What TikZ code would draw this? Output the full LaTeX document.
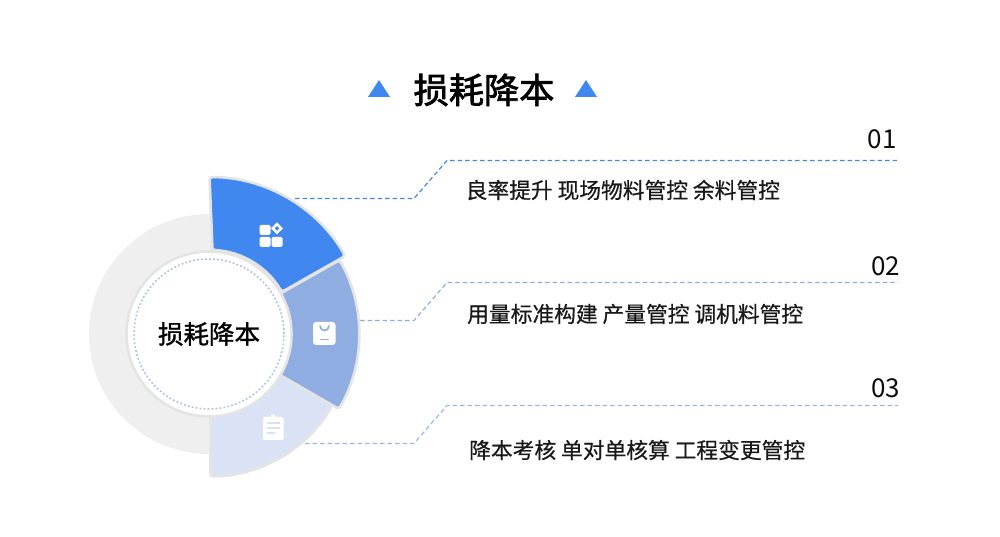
\documentclass[tikz,border=0pt]{standalone}
\usepackage{fontspec}
\newfontfamily\cjk{Noto Sans CJK SC}
\newfontfamily\cjkm[FakeBold=0.6]{Noto Sans CJK SC}
\newfontfamily\cjkc[FakeBold=1.2]{Noto Sans CJK SC}
\newfontfamily\cjkb[FakeBold=2]{Noto Sans CJK SC}
\definecolor{cblue}{HTML}{4087EF}
\definecolor{cmid}{HTML}{90ADE2}
\definecolor{clight}{HTML}{DAE3F5}
\definecolor{cedge}{HTML}{E4E4E4}
\definecolor{cring}{HTML}{EFEFEF}
\definecolor{cdots}{HTML}{A9BFEA}
\tikzset{
  x=1pt,y=1pt,
  sector/.style={draw=cedge,line width=2.6pt,rounded corners=3pt,line join=round},
  leader/.style={line width=1.2pt,dash pattern=on 4.5pt off 3pt},
  itemtext/.style={anchor=west,inner sep=0pt,font=\cjkm\fontsize{21.75}{24}\selectfont,text=black!90},
  numtext/.style={anchor=east,inner sep=0pt,font=\cjk\fontsize{26}{28}\selectfont,text=black!95},
  tri/.style={fill=cblue,draw=none}
}
\begin{document}
\begin{tikzpicture}
\useasboundingbox (0,0) rectangle (1000,537);
% leaders
\coordinate (a0) at (295,338.5);
\coordinate (a1) at (414,338.5);
\coordinate (a2) at (447,376.5);
\coordinate (a3) at (898,376.5);
\coordinate (b0) at (360,216.5);
\coordinate (b1) at (414,216.5);
\coordinate (b2) at (447,254.5);
\coordinate (b3) at (898,254.5);
\coordinate (c0) at (305,93.5);
\coordinate (c1) at (414,93.5);
\coordinate (c2) at (447,131.5);
\coordinate (c3) at (898,131.5);
\draw[leader,cblue] (a0) -- (a1) -- (a2) -- (a3);
\draw[leader,cmid] (b0) -- (b1) -- (b2) -- (b3);
\draw[leader,cmid!90!white] (c0) -- (c1) -- (c2) -- (c3);
% ring and sectors
\begin{scope}[shift={(209,203)}]
  \fill[cring,even odd rule] (0,0) circle[radius=120] (0,0) circle[radius=80];
  \draw[sector,fill=clight] (1.5,-70) -- (1.5,-142.5) arc[start angle=-89.4,end angle=-30,radius=142.5] -- (-30:70) -- cycle;
  \draw[sector,fill=cmid] (-30:70) -- (-30:150) arc[start angle=-30,end angle=29.5,radius=150] -- (29.5:70) -- cycle;
  \draw[sector,fill=cblue] (3.5,84) -- (0.5,157) arc[start angle=89.8,end angle=29.8,radius=157] -- (30:84) arc[start angle=30,end angle=87.6,radius=84] -- cycle;
  \fill[white] (0,0) circle[radius=82];
  \draw[cedge,line width=2.6pt] (0,0) circle[radius=82.5];
  \draw[cdots,line width=1.5pt,dash pattern=on 1.8pt off 2.2pt] (0,0) circle[radius=75];
\end{scope}
% icon 1
\fill[white,rounded corners=1.5pt] (259.5,312) rectangle (270.5,302);
\fill[white,rounded corners=1.5pt] (259.5,300) rectangle (270.5,290);
\fill[white,rounded corners=1.5pt] (271.5,300) rectangle (282.5,290);
\fill[white,even odd rule] (277,314.5) -- (283,308.5) -- (277,302.5) -- (271,308.5) -- cycle (277,311) -- (279.5,308.5) -- (277,306) -- (274.5,308.5) -- cycle;
% icon 2
\fill[white,rounded corners=3pt] (313,215) rectangle (335.5,192);
\draw[cmid,line width=1.7pt,line cap=round] (320,211) .. controls (320.5,205) and (328.5,205) .. (329,211);
\draw[cmid,line width=1.7pt,line cap=round] (321,197.5) -- (328,197.5);
% icon 3
\fill[white,rounded corners=2pt] (263,120) rectangle (283.5,97);
\fill[white] (273,120.5) circle[radius=2.2];
\draw[clight,line width=1.3pt] (267,114) -- (279.5,114) (267,109) -- (279.5,109) (267,104) -- (275,104);
% triangles
\fill[tri] (368,440) -- (390,440) -- (379,457) -- cycle;
\fill[tri] (575,440) -- (597,440) -- (586,457) -- cycle;
% text
\node[inner sep=0pt,font=\cjkb\fontsize{35.2}{38}\selectfont,text=black] (title) at (484,447) {损耗降本};
\node[inner sep=0pt,font=\cjkc\fontsize{25.5}{30}\selectfont,text=black] (center) at (209,203) {损耗降本};
\node[numtext] (n1) at (897,398) {01};
\node[numtext] (n2) at (900.5,271) {02};
\node[numtext] (n3) at (900.5,149) {03};
\node[itemtext] (t1) at (465.5,347) {良率提升 现场物料管控 余料管控};
\node[itemtext] (t2) at (467,223) {用量标准构建 产量管控 调机料管控};
\node[itemtext] (t3) at (469,87) {降本考核 单对单核算 工程变更管控};
\end{tikzpicture}
\end{document}
